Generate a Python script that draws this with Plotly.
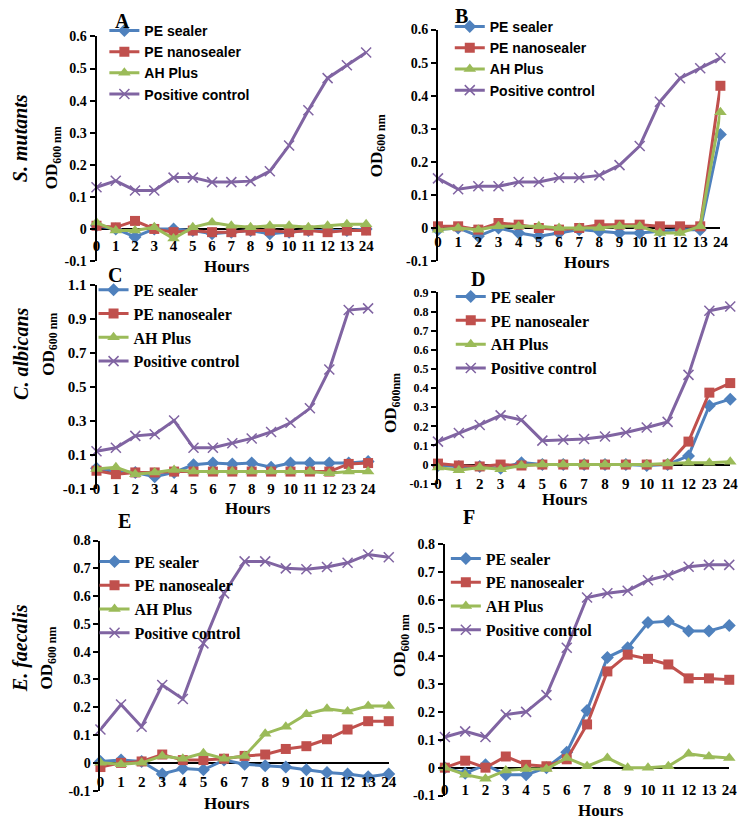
import plotly.graph_objects as go

W, H = 753, 832

# ---------------- data ----------------
hours_std = ["0", "1", "2", "3", "4", "5", "6", "7", "8", "9", "10", "11", "12", "13", "24"]
hours_cd = ["0", "1", "2", "3", "4", "5", "6", "7", "8", "9", "10", "11", "12", "23", "24"]

series_names = ["PE sealer", "PE nanosealer", "AH Plus", "Positive control"]

# Panel A - S. mutants
a_pe_sealer = [0.01, 0.0, -0.025, 0.0, 0.0, -0.005, -0.015, -0.01, -0.005, -0.015, -0.01, -0.005, -0.005, -0.005, 0.0]
a_pe_nano = [0.01, 0.005, 0.025, 0.0, -0.01, -0.005, -0.01, -0.01, -0.005, -0.005, -0.01, -0.005, -0.01, -0.005, -0.005]
a_ah_plus = [0.02, -0.005, -0.005, 0.005, -0.03, 0.005, 0.02, 0.01, 0.005, 0.01, 0.01, 0.005, 0.01, 0.015, 0.015]
a_positive = [0.13, 0.15, 0.12, 0.12, 0.16, 0.16, 0.146, 0.146, 0.149, 0.18, 0.26, 0.37, 0.47, 0.51, 0.55]

# Panel B - S. mutants
b_pe_sealer = [-0.005, 0.0, -0.025, 0.0, -0.015, -0.025, -0.015, -0.005, -0.01, -0.015, -0.015, -0.01, -0.005, -0.005, 0.283]
b_pe_nano = [0.005, 0.005, -0.005, 0.015, 0.01, 0.0, -0.005, 0.0, 0.01, 0.01, 0.01, 0.005, 0.005, 0.005, 0.43]
b_ah_plus = [-0.005, 0.0, -0.005, 0.005, 0.005, 0.005, 0.0, 0.0, 0.0, 0.005, 0.005, -0.015, -0.015, 0.005, 0.35]
b_positive = [0.15, 0.117, 0.126, 0.126, 0.139, 0.139, 0.152, 0.152, 0.159, 0.19, 0.248, 0.382, 0.453, 0.483, 0.514]

# Panel C - C. albicans
c_pe_sealer = [0.02, 0.0, -0.005, -0.03, -0.005, 0.04, 0.05, 0.045, 0.05, 0.025, 0.05, 0.05, 0.05, 0.05, 0.06]
c_pe_nano = [0.005, -0.015, -0.005, -0.005, 0.0, 0.0, 0.0, 0.0, 0.0, 0.0, 0.0, 0.0, 0.0, 0.045, 0.05]
c_ah_plus = [0.015, 0.025, -0.015, -0.005, 0.01, 0.0, 0.0, 0.0, 0.0, 0.0, 0.0, 0.0, -0.01, 0.0, 0.0]
c_positive = [0.12, 0.14, 0.21, 0.22, 0.30, 0.14, 0.14, 0.167, 0.195, 0.233, 0.287, 0.372, 0.60, 0.95, 0.96]

# Panel D - C. albicans
d_pe_sealer = [-0.005, -0.01, -0.01, -0.02, 0.01, 0.0, 0.0, 0.0, 0.0, 0.0, -0.005, 0.0, 0.045, 0.308, 0.342]
d_pe_nano = [0.005, -0.005, -0.01, 0.0, -0.005, 0.0, 0.0, 0.0, 0.0, 0.0, 0.0, 0.0, 0.12, 0.376, 0.426]
d_ah_plus = [-0.015, -0.03, -0.015, -0.025, -0.005, 0.0, 0.0, 0.0, 0.0, 0.0, 0.0, 0.005, 0.01, 0.01, 0.015]
d_positive = [0.12, 0.165, 0.207, 0.257, 0.233, 0.125, 0.13, 0.134, 0.147, 0.168, 0.194, 0.223, 0.469, 0.804, 0.826]

# Panel E - E. faecalis
e_pe_sealer = [0.005, 0.01, 0.005, -0.04, -0.02, -0.025, 0.01, -0.005, -0.01, -0.015, -0.025, -0.035, -0.04, -0.05, -0.04]
e_pe_nano = [-0.015, 0.0, 0.005, 0.03, 0.01, 0.01, 0.015, 0.025, 0.03, 0.05, 0.06, 0.085, 0.12, 0.15, 0.15]
e_ah_plus = [0.0, -0.005, 0.0, 0.025, 0.015, 0.035, 0.015, 0.025, 0.105, 0.13, 0.175, 0.195, 0.185, 0.205, 0.205]
e_positive = [0.12, 0.21, 0.13, 0.28, 0.23, 0.43, 0.61, 0.725, 0.725, 0.70, 0.697, 0.705, 0.72, 0.75, 0.74]

# Panel F - E. faecalis
f_pe_sealer = [0.0, -0.02, 0.01, -0.025, -0.025, 0.0, 0.055, 0.205, 0.395, 0.43, 0.52, 0.525, 0.49, 0.49, 0.51]
f_pe_nano = [0.0, 0.025, 0.0, 0.04, 0.01, 0.005, 0.03, 0.155, 0.345, 0.405, 0.39, 0.37, 0.32, 0.32, 0.315]
f_ah_plus = [0.0, -0.025, -0.04, -0.01, -0.005, -0.005, 0.035, 0.005, 0.035, 0.0, 0.0, 0.005, 0.05, 0.04, 0.035]
f_positive = [0.11, 0.13, 0.11, 0.19, 0.20, 0.26, 0.43, 0.61, 0.625, 0.634, 0.672, 0.69, 0.72, 0.727, 0.727]

# y tick values / labels
yticks_ab = [-0.1, 0.0, 0.1, 0.2, 0.3, 0.4, 0.5, 0.6]
ylabels_ab = ["-0.1", "0", "0.1", "0.2", "0.3", "0.4", "0.5", "0.6"]
yticks_c = [-0.1, 0.1, 0.3, 0.5, 0.7, 0.9, 1.1]
ylabels_c = ["-0.1", "0.1", "0.3", "0.5", "0.7", "0.9", "1.1"]
yticks_d = [-0.1, 0.0, 0.1, 0.2, 0.3, 0.4, 0.5, 0.6, 0.7, 0.8, 0.9]
ylabels_d = ["-0.1", "0", "0.1", "0.2", "0.3", "0.4", "0.5", "0.6", "0.7", "0.8", "0.9"]
yticks_ef = [-0.1, 0.0, 0.1, 0.2, 0.3, 0.4, 0.5, 0.6, 0.7, 0.8]
ylabels_ef = ["-0.1", "0", "0.1", "0.2", "0.3", "0.4", "0.5", "0.6", "0.7", "0.8"]

panel_letters = ["A", "B", "C", "D", "E", "F"]
species = ["S. mutants", "C. albicans", "E. faecalis"]
od_texts = ["OD<sub>600 nm</sub>", "OD<sub>600 nm</sub>", "OD<sub>600 nm</sub>",
            "OD<sub>600nm</sub>", "OD<sub>600 nm</sub>", "OD<sub>600 nm</sub>"]
x_title = "Hours"

# ---------------- layout helpers ----------------
SERIF = "Liberation Serif"
SANS = "Liberation Sans"


def fx(p):
    return p / W


def fy(p):
    return 1 - p / H


styles = [
    dict(color="#4F81BD", symbol="diamond", size=10),
    dict(color="#C0504D", symbol="square", size=10),
    dict(color="#9BBB59", symbol="triangle-up", size=11),
    dict(color="#8064A2", symbol="x-thin", size=10),
]

panels = [
    dict(hours=hours_std, data=[a_pe_sealer, a_pe_nano, a_ah_plus, a_positive],
         yticks=yticks_ab, ylabels=ylabels_ab,
         x0=94, x1=368, ytop=29, ybot=258, tfs=14, standoff=6,
         lfont=SANS, lfs=14, ltext=144, ltop=19,
         letter=(120, 13), hours_pos=(227, 264), od=(50, 153)),
    dict(hours=hours_std, data=[b_pe_sealer, b_pe_nano, b_ah_plus, b_positive],
         yticks=yticks_ab, ylabels=ylabels_ab,
         x0=441, x1=728, ytop=22, ybot=258, tfs=14, standoff=3,
         lfont=SANS, lfs=14, ltext=495, ltop=15,
         letter=(465, 8), hours_pos=(592, 259), od=(380, 140)),
    dict(hours=hours_cd, data=[c_pe_sealer, c_pe_nano, c_ah_plus, c_positive],
         yticks=yticks_c, ylabels=ylabels_c,
         x0=94, x1=370, ytop=282, ybot=490, tfs=15, standoff=6,
         lfont=SERIF, lfs=16, ltext=133, ltop=282,
         letter=(113, 272), hours_pos=(248, 510), od=(47, 343)),
    dict(hours=hours_cd, data=[d_pe_sealer, d_pe_nano, d_ah_plus, d_positive],
         yticks=yticks_d, ylabels=ylabels_d,
         x0=441, x1=738, ytop=290, ybot=485, tfs=12, standoff=8,
         lfont=SERIF, lfs=16, ltext=496, ltop=289,
         letter=(482, 276), hours_pos=(570, 501), od=(395, 403)),
    dict(hours=hours_std, data=[e_pe_sealer, e_pe_nano, e_ah_plus, e_positive],
         yticks=yticks_ef, ylabels=ylabels_ef,
         x0=98, x1=391, ytop=543, ybot=798, tfs=14, standoff=8,
         lfont=SERIF, lfs=16, ltext=134, ltop=559,
         letter=(122, 523), hours_pos=(227, 811), od=(45, 663)),
    dict(hours=hours_std, data=[f_pe_sealer, f_pe_nano, f_ah_plus, f_positive],
         yticks=yticks_ef, ylabels=ylabels_ef,
         x0=448, x1=737, ytop=547, ybot=803, tfs=14, standoff=11,
         lfont=SERIF, lfs=16, ltext=491, ltop=556,
         letter=(473, 519), hours_pos=(607, 818), od=(403, 650)),
]

species_pos = [(17, 133), (17, 353), (17, 653)]

fig = go.Figure()
annotations = []
layout_extra = {}

for i, p in enumerate(panels):
    n = i + 1
    xa = "x" if n == 1 else f"x{n}"
    ya = "y" if n == 1 else f"y{n}"
    leg = "legend" if n == 1 else f"legend{n}"
    for name, vals, st in zip(series_names, p["data"], styles):
        marker = dict(symbol=st["symbol"], size=st["size"], color=st["color"])
        if st["symbol"] == "x-thin":
            marker["line"] = dict(color=st["color"], width=1.5)
        fig.add_trace(go.Scatter(
            x=p["hours"], y=vals, name=name, mode="lines+markers",
            line=dict(color=st["color"], width=3), marker=marker,
            xaxis=xa, yaxis=ya, legend=leg, cliponaxis=False,
        ))

    ymin, ymax = p["yticks"][0], p["yticks"][-1]
    d_lo, d_hi = fy(p["ybot"]), fy(p["ytop"])
    zero_frac = d_lo + (0 - ymin) / (ymax - ymin) * (d_hi - d_lo)

    xkey = "xaxis" if n == 1 else f"xaxis{n}"
    ykey = "yaxis" if n == 1 else f"yaxis{n}"
    layout_extra[xkey] = dict(
        type="category", domain=[fx(p["x0"]), fx(p["x1"])],
        range=[0, len(p["hours"]) - 1], anchor="free", position=zero_frac,
        showline=False, showgrid=False, zeroline=False, ticks="",
        tickfont=dict(family=SERIF, size=15, color="black", weight="bold"),
        ticklabelstandoff=p["standoff"], fixedrange=True,
    )
    layout_extra[ykey] = dict(
        domain=[d_lo, d_hi], range=[ymin, ymax], anchor=xa,
        tickvals=p["yticks"], ticktext=p["ylabels"],
        showline=True, linecolor="black", linewidth=2,
        ticks="outside", ticklen=5, tickwidth=1.5, tickcolor="black",
        showgrid=False, zeroline=True, zerolinecolor="black", zerolinewidth=1.5,
        tickfont=dict(family=SERIF, size=p["tfs"], color="black", weight="bold"),
        fixedrange=True,
    )
    layout_extra[leg] = dict(
        x=fx(p["ltext"] - 42), y=fy(p["ltop"] - 12), xanchor="left", yanchor="top",
        bgcolor="rgba(0,0,0,0)", borderwidth=0,
        font=dict(family=p["lfont"], size=p["lfs"], color="black", weight="bold"),
        itemwidth=30, tracegroupgap=0,
    )

    annotations.append(dict(
        text=panel_letters[i], x=fx(p["letter"][0]), y=fy(p["letter"][1]),
        xref="paper", yref="paper", showarrow=False, xanchor="center", yanchor="middle",
        font=dict(family=SERIF, size=20, color="black", weight="bold")))
    annotations.append(dict(
        text=x_title, x=fx(p["hours_pos"][0]), y=fy(p["hours_pos"][1]),
        xref="paper", yref="paper", showarrow=False, xanchor="center", yanchor="middle",
        font=dict(family=SERIF, size=17, color="black", weight="bold")))
    annotations.append(dict(
        text=od_texts[i], x=fx(p["od"][0]), y=fy(p["od"][1]), textangle=-90,
        xref="paper", yref="paper", showarrow=False, xanchor="center", yanchor="middle",
        font=dict(family=SERIF, size=17, color="black", weight="bold")))

for sp, pos in zip(species, species_pos):
    annotations.append(dict(
        text=sp, x=fx(pos[0]), y=fy(pos[1]), textangle=-90,
        xref="paper", yref="paper", showarrow=False, xanchor="center", yanchor="middle",
        font=dict(family=SERIF, size=20, color="black", weight="bold", style="italic")))

fig.update_layout(
    width=W, height=H, margin=dict(l=0, r=0, t=0, b=0),
    paper_bgcolor="white", plot_bgcolor="rgba(0,0,0,0)",
    showlegend=True, annotations=annotations, **layout_extra,
)

fig.write_html(
    "out.html",
    config={"displayModeBar": False},
    post_script="document.body.style.margin='0';document.body.style.overflow='hidden';",
)
